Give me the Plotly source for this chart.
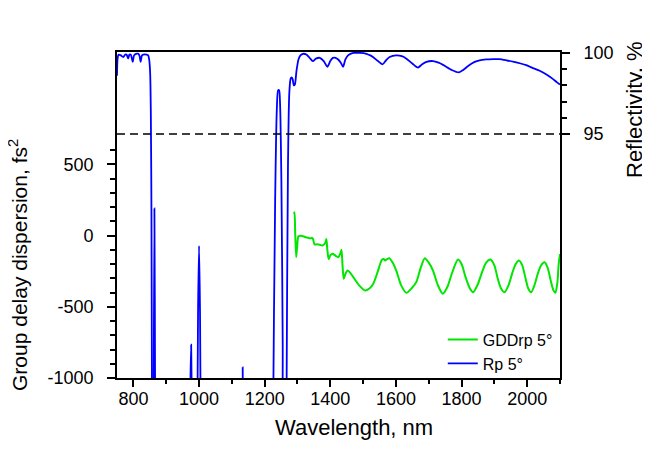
import plotly.graph_objects as go

# ---- data ----
gdd_wl = [1289, 1291, 1293, 1296, 1299, 1303, 1310, 1317, 1330, 1340, 1344, 1347, 1352, 1360,
          1368, 1376, 1385, 1388, 1391, 1395, 1400, 1407, 1415, 1424, 1430, 1434, 1437, 1441,
          1446, 1453, 1462, 1470, 1488, 1506, 1520, 1531, 1545, 1557, 1563, 1567, 1573, 1580,
          1590, 1601, 1616, 1632, 1648, 1662, 1675, 1688, 1700, 1713, 1728, 1743, 1757, 1770,
          1789, 1800, 1812, 1825, 1835, 1850, 1862, 1875, 1888, 1900, 1910, 1920, 1931, 1943,
          1955, 1965, 1975, 1985, 1995, 2003, 2012, 2022, 2032, 2042, 2053, 2063, 2072, 2080,
          2086, 2092, 2096, 2100]
gdd_val = [152, 164, 20, -150, -80, -5, -2, -5, -15, -20, -15, -22, -62, -62,
           -65, -70, -50, -25, -100, -165, -140, -128, -140, -152, -130, -100, -200, -304,
           -270, -246, -265, -292, -350, -386, -370, -339, -250, -171, -165, -176, -165, -159,
           -190, -246, -350, -402, -370, -327, -230, -159, -190, -246, -350, -409, -360, -270,
           -169, -200, -290, -370, -398, -340, -260, -190, -169, -210, -300, -370, -398, -350,
           -260, -200, -176, -210, -300, -370, -398, -350, -270, -210, -187, -230, -320, -385,
           -402, -330, -200, -130]

rp_wl = [750, 752, 755, 762, 769, 775, 779, 784, 788, 792, 798, 802, 808, 815, 819, 822, 826,
         830, 840, 845, 848, 851, 853, 855, 857, 859, 861, 862, 864, 866, 868, 870,
         965, 969, 972, 974, 976, 979, 983, 990, 993, 997, 1000, 1003, 1007, 1012,
         1125, 1130, 1133, 1136, 1141, 1220, 1226, 1232, 1237, 1241, 1244, 1247, 1251, 1255,
         1259, 1263, 1267, 1271, 1275, 1279, 1282, 1285, 1289, 1292, 1297, 1303, 1309, 1317,
         1327, 1337, 1347, 1356, 1368, 1380, 1391, 1400, 1408, 1416, 1424, 1432, 1439, 1446,
         1454, 1470, 1490, 1510, 1522, 1530, 1545, 1559, 1570, 1581, 1601, 1618, 1632, 1650,
         1667, 1680, 1693, 1713, 1730, 1745, 1770, 1792, 1805, 1820, 1840, 1855, 1875, 1896,
         1915, 1936, 1960, 1980, 1997, 2020, 2038, 2060, 2078, 2090, 2100]
rp_val = [98.6, 99.7, 99.9, 99.85, 99.75, 99.9, 99.9, 99.65, 99.9, 99.9, 99.45, 99.85, 99.95,
          99.95, 99.8, 99.45, 99.85, 99.9, 99.9, 99.85, 99.6, 98.8, 96.5, 90, 75, 62, 70, 80,
          90.4, 80, 65, 50,
          50, 65, 76, 80, 82, 76, 60, 50, 70, 84, 88.1, 84, 70, 50,
          50, 70, 80.6, 70, 50, 50, 78, 91, 96.5, 97.7, 97.7, 96.8, 92, 82,
          60, 60, 80, 93, 97.5, 98.4, 98.5, 98.4, 98.0, 98.05, 98.9, 99.6, 99.85, 99.95,
          99.9, 99.7, 99.5, 99.65, 99.7, 99.5, 99.15, 99.5, 99.7, 99.7, 99.6, 99.4, 99.15, 99.6,
          99.85, 100, 100, 99.95, 99.85, 99.75, 99.5, 99.3, 99.55, 99.75, 99.85, 99.8, 99.65,
          99.35, 99.1, 99.3, 99.45, 99.5, 99.4, 99.25, 98.95, 98.8, 98.95, 99.2, 99.45, 99.55,
          99.6, 99.62, 99.62, 99.55, 99.45, 99.35, 99.25, 99.05, 98.9, 98.65, 98.4, 98.2, 98.05]

x_ticks = [800, 1000, 1200, 1400, 1600, 1800, 2000]
x_minor = [900, 1100, 1300, 1500, 1700, 1900, 2100]
y_ticks = [-1000, -500, 0, 500]
y_minor = [-900, -800, -700, -600, -400, -300, -200, -100, 100, 200, 300, 400, 600]
y2_ticks = [95, 100]
y2_minor = [96, 97, 98, 99]
ref_level = 95

FONT = "Liberation Sans, Arial, sans-serif"

# plot area in figure pixels (page has an 8px body margin)
PL, PR, PT, PB = 109, 552, 44, 370
PW, PH = PR - PL, PB - PT


def px(x):
    return (x - PL) / PW


def py(y):
    return (PB - y) / PH


fig = go.Figure()
fig.add_trace(go.Scatter(x=gdd_wl, y=gdd_val, mode="lines", name="GDDrp 5°",
                         line=dict(color="#00e600", width=2, shape="spline", smoothing=0.7),
                         yaxis="y"))
fig.add_trace(go.Scatter(x=rp_wl, y=rp_val, mode="lines", name="Rp 5°",
                         line=dict(color="#0000ff", width=1.8, shape="spline", smoothing=0.7),
                         yaxis="y2"))

fig.add_shape(type="line", xref="paper", x0=0, x1=1, yref="y2", y0=ref_level, y1=ref_level,
              line=dict(color="black", width=1.5, dash="8px,5px"))

axis_common = dict(showgrid=False, zeroline=False, showline=True, linecolor="black",
                   linewidth=1.6, ticks="outside", tickcolor="black", tickwidth=1.5,
                   tickfont=dict(family=FONT, size=18, color="black"))

fig.update_layout(
    width=650, height=453,
    margin=dict(l=PL, r=650 - PR, t=PT, b=453 - PB),
    paper_bgcolor="white", plot_bgcolor="white",
    font=dict(family=FONT, color="black"),
    showlegend=True,
    legend=dict(x=0.995, y=0.17, xanchor="right", yanchor="top",
                bgcolor="rgba(0,0,0,0)", font=dict(family=FONT, size=16, color="black"),
                tracegroupgap=0, itemwidth=30),
    xaxis=dict(range=[750, 2100], tickmode="array", tickvals=x_ticks,
               ticktext=[str(v) for v in x_ticks], ticklen=7,
               mirror=True, ticklabelstandoff=-3,
               minor=dict(tickmode="array", tickvals=x_minor, ticks="outside", ticklen=4,
                          tickcolor="black", tickwidth=1.5),
               **axis_common),
    yaxis=dict(range=[-1000, 1288], tickmode="array", tickvals=y_ticks,
               ticktext=[str(v) for v in y_ticks], ticklen=8,
               ticklabelstandoff=10,
               minor=dict(tickmode="array", tickvals=y_minor, ticks="outside", ticklen=5,
                          tickcolor="black", tickwidth=1.5),
               **axis_common),
    yaxis2=dict(range=[79.94, 100.06], overlaying="y", side="right", tickmode="array",
                tickvals=y2_ticks, ticktext=[str(v) for v in y2_ticks], ticklen=8,
                ticklabelstandoff=10,
                minor=dict(tickmode="array", tickvals=y2_minor, ticks="outside", ticklen=5,
                           tickcolor="black", tickwidth=1.5),
                **axis_common),
)

fig.add_annotation(text="Group delay dispersion, fs<sup>2</sup>", xref="paper", yref="paper",
                   x=px(10), y=py(257), xanchor="center", yanchor="middle",
                   textangle=-90, showarrow=False, font=dict(family=FONT, size=21, color="black"))
fig.add_annotation(text="Reflectivity, %", xref="paper", yref="paper",
                   x=px(626), y=py(102), xanchor="center", yanchor="middle",
                   textangle=-90, showarrow=False, font=dict(family=FONT, size=22, color="black"))
fig.add_annotation(text="Wavelength, nm", xref="paper", yref="paper",
                   x=px(346), y=py(419), xanchor="center", yanchor="middle",
                   showarrow=False, font=dict(family=FONT, size=22, color="black"))

fig.write_html("out.html")
